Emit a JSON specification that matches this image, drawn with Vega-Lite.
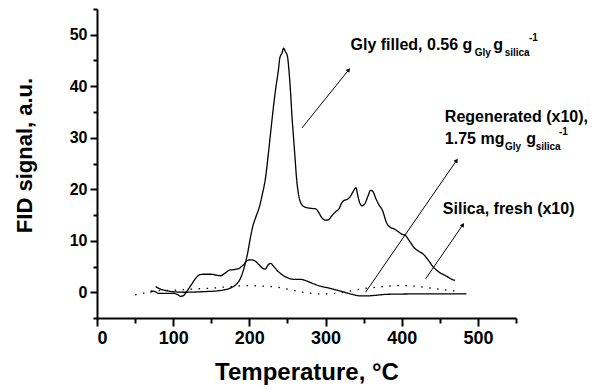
{
  "$schema": "https://vega.github.io/schema/vega-lite/v6.json",
  "width": 419,
  "height": 309,
  "autosize": {"type": "none"},
  "padding": {"left": 97, "top": 9, "right": 81, "bottom": 72},
  "config": {
    "view": {"stroke": null},
    "font": "Liberation Sans",
    "axis": {"grid": false, "domainColor": "black", "tickColor": "black", "labelColor": "black", "titleColor": "black", "labelFont": "Liberation Sans", "titleFont": "Liberation Sans", "labelFontWeight": "bold", "titleFontWeight": "bold"}
  },
  "datasets": {
    "curves": [
      {"s": "Gly filled", "T": 77, "v": 1.1}, {"s": "Gly filled", "T": 82, "v": 0.7}, {"s": "Gly filled", "T": 88, "v": 0.4}, {"s": "Gly filled", "T": 95, "v": 0.2}, {"s": "Gly filled", "T": 105, "v": 0.05}, {"s": "Gly filled", "T": 115, "v": 0.0}, {"s": "Gly filled", "T": 130, "v": 0.05}, {"s": "Gly filled", "T": 145, "v": 0.15}, {"s": "Gly filled", "T": 160, "v": 0.3}, {"s": "Gly filled", "T": 168, "v": 0.5}, {"s": "Gly filled", "T": 175, "v": 0.8}, {"s": "Gly filled", "T": 180, "v": 1.2}, {"s": "Gly filled", "T": 185, "v": 1.9}, {"s": "Gly filled", "T": 188, "v": 2.6}, {"s": "Gly filled", "T": 192, "v": 4.2}, {"s": "Gly filled", "T": 195, "v": 5.8}, {"s": "Gly filled", "T": 198, "v": 7.8}, {"s": "Gly filled", "T": 201, "v": 10.3}, {"s": "Gly filled", "T": 204, "v": 12.5}, {"s": "Gly filled", "T": 209, "v": 14.8}, {"s": "Gly filled", "T": 213, "v": 16.5}, {"s": "Gly filled", "T": 217, "v": 19.0}, {"s": "Gly filled", "T": 221, "v": 22.0}, {"s": "Gly filled", "T": 225, "v": 27.0}, {"s": "Gly filled", "T": 229, "v": 32.5}, {"s": "Gly filled", "T": 232, "v": 36.5}, {"s": "Gly filled", "T": 235, "v": 40.0}, {"s": "Gly filled", "T": 238, "v": 43.0}, {"s": "Gly filled", "T": 240, "v": 45.5}, {"s": "Gly filled", "T": 243, "v": 46.5}, {"s": "Gly filled", "T": 245, "v": 47.4}, {"s": "Gly filled", "T": 247, "v": 46.8}, {"s": "Gly filled", "T": 250, "v": 45.8}, {"s": "Gly filled", "T": 252, "v": 43.0}, {"s": "Gly filled", "T": 254, "v": 39.0}, {"s": "Gly filled", "T": 256, "v": 34.0}, {"s": "Gly filled", "T": 258, "v": 30.0}, {"s": "Gly filled", "T": 260, "v": 26.0}, {"s": "Gly filled", "T": 262, "v": 22.0}, {"s": "Gly filled", "T": 264, "v": 19.5}, {"s": "Gly filled", "T": 267, "v": 17.5}, {"s": "Gly filled", "T": 272, "v": 16.6}, {"s": "Gly filled", "T": 280, "v": 16.3}, {"s": "Gly filled", "T": 287, "v": 16.2}, {"s": "Gly filled", "T": 291, "v": 15.5}, {"s": "Gly filled", "T": 295, "v": 14.5}, {"s": "Gly filled", "T": 300, "v": 14.0}, {"s": "Gly filled", "T": 304, "v": 14.1}, {"s": "Gly filled", "T": 308, "v": 14.8}, {"s": "Gly filled", "T": 313, "v": 15.6}, {"s": "Gly filled", "T": 318, "v": 16.3}, {"s": "Gly filled", "T": 321, "v": 17.3}, {"s": "Gly filled", "T": 324, "v": 17.8}, {"s": "Gly filled", "T": 328, "v": 18.0}, {"s": "Gly filled", "T": 332, "v": 18.5}, {"s": "Gly filled", "T": 336, "v": 19.5}, {"s": "Gly filled", "T": 340, "v": 20.3}, {"s": "Gly filled", "T": 342, "v": 19.0}, {"s": "Gly filled", "T": 345, "v": 17.3}, {"s": "Gly filled", "T": 348, "v": 16.8}, {"s": "Gly filled", "T": 352, "v": 17.3}, {"s": "Gly filled", "T": 356, "v": 18.8}, {"s": "Gly filled", "T": 359, "v": 19.8}, {"s": "Gly filled", "T": 362, "v": 19.6}, {"s": "Gly filled", "T": 366, "v": 18.2}, {"s": "Gly filled", "T": 370, "v": 17.0}, {"s": "Gly filled", "T": 375, "v": 15.8}, {"s": "Gly filled", "T": 380, "v": 13.5}, {"s": "Gly filled", "T": 385, "v": 12.6}, {"s": "Gly filled", "T": 390, "v": 12.3}, {"s": "Gly filled", "T": 395, "v": 11.8}, {"s": "Gly filled", "T": 400, "v": 11.3}, {"s": "Gly filled", "T": 405, "v": 11.0}, {"s": "Gly filled", "T": 410, "v": 10.0}, {"s": "Gly filled", "T": 416, "v": 8.7}, {"s": "Gly filled", "T": 422, "v": 8.0}, {"s": "Gly filled", "T": 429, "v": 7.3}, {"s": "Gly filled", "T": 435, "v": 6.2}, {"s": "Gly filled", "T": 442, "v": 4.8}, {"s": "Gly filled", "T": 450, "v": 3.8}, {"s": "Gly filled", "T": 458, "v": 3.2}, {"s": "Gly filled", "T": 466, "v": 2.5}, {"s": "Gly filled", "T": 470, "v": 2.3},
      {"s": "Regenerated", "T": 70, "v": 0.0}, {"s": "Regenerated", "T": 74, "v": 0.2}, {"s": "Regenerated", "T": 77, "v": 0.1}, {"s": "Regenerated", "T": 80, "v": -0.2}, {"s": "Regenerated", "T": 90, "v": -0.2}, {"s": "Regenerated", "T": 100, "v": -0.2}, {"s": "Regenerated", "T": 105, "v": -0.4}, {"s": "Regenerated", "T": 110, "v": -0.8}, {"s": "Regenerated", "T": 114, "v": -0.6}, {"s": "Regenerated", "T": 118, "v": 0.2}, {"s": "Regenerated", "T": 124, "v": 1.5}, {"s": "Regenerated", "T": 130, "v": 2.8}, {"s": "Regenerated", "T": 135, "v": 3.4}, {"s": "Regenerated", "T": 140, "v": 3.5}, {"s": "Regenerated", "T": 150, "v": 3.5}, {"s": "Regenerated", "T": 157, "v": 3.3}, {"s": "Regenerated", "T": 162, "v": 3.2}, {"s": "Regenerated", "T": 168, "v": 3.7}, {"s": "Regenerated", "T": 174, "v": 4.3}, {"s": "Regenerated", "T": 180, "v": 4.4}, {"s": "Regenerated", "T": 186, "v": 4.6}, {"s": "Regenerated", "T": 192, "v": 5.3}, {"s": "Regenerated", "T": 198, "v": 6.2}, {"s": "Regenerated", "T": 203, "v": 6.3}, {"s": "Regenerated", "T": 208, "v": 6.0}, {"s": "Regenerated", "T": 213, "v": 5.3}, {"s": "Regenerated", "T": 218, "v": 4.6}, {"s": "Regenerated", "T": 221, "v": 4.5}, {"s": "Regenerated", "T": 224, "v": 5.2}, {"s": "Regenerated", "T": 228, "v": 5.6}, {"s": "Regenerated", "T": 232, "v": 5.0}, {"s": "Regenerated", "T": 238, "v": 4.0}, {"s": "Regenerated", "T": 245, "v": 3.2}, {"s": "Regenerated", "T": 252, "v": 2.7}, {"s": "Regenerated", "T": 260, "v": 2.5}, {"s": "Regenerated", "T": 268, "v": 2.5}, {"s": "Regenerated", "T": 275, "v": 2.2}, {"s": "Regenerated", "T": 285, "v": 1.6}, {"s": "Regenerated", "T": 295, "v": 1.1}, {"s": "Regenerated", "T": 305, "v": 0.8}, {"s": "Regenerated", "T": 315, "v": 0.4}, {"s": "Regenerated", "T": 325, "v": 0.0}, {"s": "Regenerated", "T": 335, "v": -0.4}, {"s": "Regenerated", "T": 345, "v": -0.7}, {"s": "Regenerated", "T": 355, "v": -0.7}, {"s": "Regenerated", "T": 365, "v": -0.6}, {"s": "Regenerated", "T": 380, "v": -0.4}, {"s": "Regenerated", "T": 400, "v": -0.35}, {"s": "Regenerated", "T": 440, "v": -0.3}, {"s": "Regenerated", "T": 485, "v": -0.3},
      {"s": "Silica fresh", "T": 50, "v": -0.5}, {"s": "Silica fresh", "T": 60, "v": -0.2}, {"s": "Silica fresh", "T": 70, "v": 0.2}, {"s": "Silica fresh", "T": 80, "v": 0.3}, {"s": "Silica fresh", "T": 100, "v": 0.4}, {"s": "Silica fresh", "T": 122, "v": 0.6}, {"s": "Silica fresh", "T": 150, "v": 0.8}, {"s": "Silica fresh", "T": 175, "v": 1.1}, {"s": "Silica fresh", "T": 197, "v": 1.3}, {"s": "Silica fresh", "T": 215, "v": 1.2}, {"s": "Silica fresh", "T": 236, "v": 1.0}, {"s": "Silica fresh", "T": 250, "v": 0.6}, {"s": "Silica fresh", "T": 260, "v": 0.3}, {"s": "Silica fresh", "T": 275, "v": -0.1}, {"s": "Silica fresh", "T": 290, "v": -0.3}, {"s": "Silica fresh", "T": 305, "v": -0.3}, {"s": "Silica fresh", "T": 320, "v": -0.1}, {"s": "Silica fresh", "T": 335, "v": 0.3}, {"s": "Silica fresh", "T": 350, "v": 0.7}, {"s": "Silica fresh", "T": 370, "v": 1.0}, {"s": "Silica fresh", "T": 394, "v": 1.3}, {"s": "Silica fresh", "T": 415, "v": 1.2}, {"s": "Silica fresh", "T": 438, "v": 0.8}, {"s": "Silica fresh", "T": 460, "v": 0.4}, {"s": "Silica fresh", "T": 473, "v": 0.2}
    ],
    "arrows": [
      {"a": "gly", "x": 269, "y": 31.9, "x2": 330.5, "y2": 43.2},
      {"a": "regen", "x": 352.5, "y": 0.0, "x2": 472, "y2": 25.6},
      {"a": "silica", "x": 431.3, "y": 2.6, "x2": 480.3, "y2": 13.1}
    ],
    "labels": [
      {"t": "Gly filled, 0.56 g", "x": 332.8, "y": 46.95},
      {"t": "g", "x": 520.2, "y": 46.95},
      {"t": "Regenerated (x10),", "x": 456.6, "y": 33.0},
      {"t": "1.75 mg", "x": 456.6, "y": 28.84},
      {"t": "g", "x": 563.6, "y": 28.84},
      {"t": "Silica, fresh (x10)", "x": 454.0, "y": 15.15}
    ],
    "subs": [
      {"t": "Gly", "x": 495.7, "y": 45.93},
      {"t": "silica", "x": 535.1, "y": 45.93},
      {"t": "-1", "x": 567.0, "y": 48.7},
      {"t": "Gly", "x": 535.5, "y": 27.6},
      {"t": "silica", "x": 575.8, "y": 27.6},
      {"t": "-1", "x": 606.4, "y": 30.44}
    ]
  },
  "resolve": {"axis": {"x": "independent", "y": "independent"}},
  "layer": [
    {
      "data": {"name": "curves"},
      "mark": {"type": "line", "color": "black", "strokeWidth": 1.3, "interpolate": "monotone"},
      "encoding": {
        "x": {"field": "T", "type": "quantitative", "scale": {"domain": [0, 550], "nice": false, "zero": false},
          "axis": {"orient": "bottom", "values": [0, 100, 200, 300, 400, 500], "title": "Temperature, °C", "labelFontSize": 18, "labelPadding": 3, "tickSize": 8, "tickWidth": 2, "domainWidth": 2, "titleFontSize": 24, "titlePadding": 13}},
        "y": {"field": "v", "type": "quantitative", "scale": {"domain": [-5, 55], "nice": false, "zero": false},
          "axis": {"orient": "left", "values": [0, 10, 20, 30, 40, 50], "title": "FID signal, a.u.", "labelFontSize": 16, "labelPadding": 3, "tickSize": 7, "tickWidth": 2, "domainWidth": 2, "titleFontSize": 22, "titlePadding": 33, "titleY": 146}},
        "detail": {"field": "s"},
        "strokeDash": {"field": "s", "type": "nominal", "legend": null,
          "scale": {"domain": ["Gly filled", "Regenerated", "Silica fresh"], "range": [[1, 0], [1, 0], [1.5, 6.5]]}}
      }
    },
    {
      "data": {"name": "arrows"},
      "mark": {"type": "rule", "color": "black", "strokeWidth": 1},
      "encoding": {
        "x": {"field": "x", "type": "quantitative", "scale": {"domain": [0, 550], "nice": false, "zero": false},
          "axis": {"orient": "bottom", "values": [50, 150, 250, 350, 450, 550], "labels": false, "domain": false, "tickSize": 5, "tickWidth": 2, "title": null}},
        "y": {"field": "y", "type": "quantitative", "scale": {"domain": [-5, 55], "nice": false, "zero": false},
          "axis": {"orient": "left", "values": [-5, 5, 15, 25, 35, 45, 55], "labels": false, "domain": false, "tickSize": 4, "tickWidth": 2, "title": null}},
        "x2": {"field": "x2"},
        "y2": {"field": "y2"}
      }
    },
    {
      "data": {"name": "arrows"},
      "transform": [{"filter": "datum.a === 'gly'"}],
      "mark": {"type": "point", "shape": "triangle-up", "filled": true, "color": "black", "size": 22, "angle": 38.6, "opacity": 1},
      "encoding": {
        "x": {"field": "x2", "type": "quantitative", "axis": null},
        "y": {"field": "y2", "type": "quantitative", "axis": null}
      }
    },
    {
      "data": {"name": "arrows"},
      "transform": [{"filter": "datum.a !== 'gly'"}],
      "mark": {"type": "point", "shape": "triangle-up", "filled": true, "color": "black", "size": 22, "angle": 34.5, "opacity": 1},
      "encoding": {
        "x": {"field": "x2", "type": "quantitative", "axis": null},
        "y": {"field": "y2", "type": "quantitative", "axis": null}
      }
    },
    {
      "data": {"name": "labels"},
      "mark": {"type": "text", "align": "left", "baseline": "alphabetic", "font": "Liberation Sans", "fontWeight": "bold", "fontSize": 16, "color": "black"},
      "encoding": {
        "x": {"field": "x", "type": "quantitative", "axis": null},
        "y": {"field": "y", "type": "quantitative", "axis": null},
        "text": {"field": "t"}
      }
    },
    {
      "data": {"name": "subs"},
      "mark": {"type": "text", "align": "left", "baseline": "alphabetic", "font": "Liberation Sans", "fontWeight": "bold", "fontSize": 10, "color": "black"},
      "encoding": {
        "x": {"field": "x", "type": "quantitative", "axis": null},
        "y": {"field": "y", "type": "quantitative", "axis": null},
        "text": {"field": "t"}
      }
    }
  ]
}
